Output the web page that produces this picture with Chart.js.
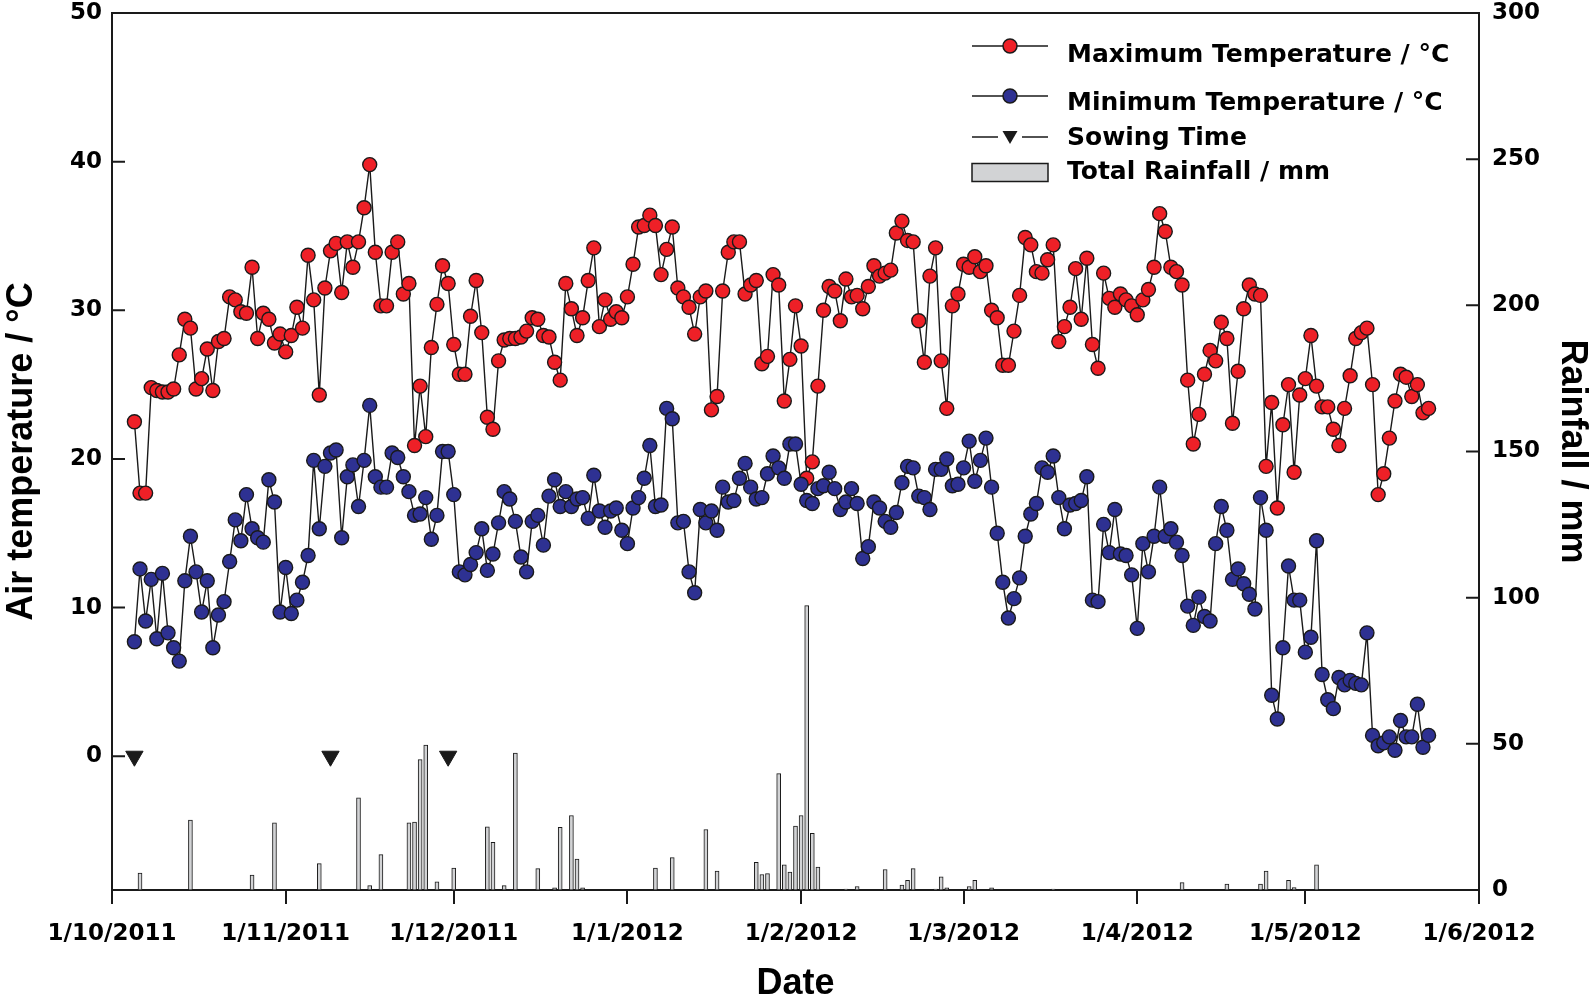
<!DOCTYPE html>
<html lang="en">

<head>
    <meta charset="UTF-8" />
    <title>Air temperature and rainfall</title>
    <style>
        html,
        body {
            margin: 0;
            padding: 0;
            background: #fff;
        }

        #wrapper {
            width: 1594px;
            height: 998px;
        }
    </style>
</head>

<body>
    <div id="wrapper">
        <canvas id="chart" width="1594" height="998"></canvas>
    </div>

    <script src="https://cdn.jsdelivr.net/npm/chart.js@4.4.1/dist/chart.umd.min.js"></script>
    <script>
        // x values are days counted from 1/10/2011
        const firstDay = 4; // 5/10/2011, one reading per day after that

        const maxTemp = [
            22.5, 17.7, 17.7, 24.8, 24.6, 24.5, 24.5, 24.7, 27.0, 29.4,
            28.8, 24.7, 25.4, 27.4, 24.6, 27.9, 28.1, 30.9, 30.7, 29.9,
            29.8, 32.9, 28.1, 29.8, 29.4, 27.8, 28.4, 27.2, 28.3, 30.2,
            28.8, 33.7, 30.7, 24.3, 31.5, 34.0, 34.5, 31.2, 34.6, 32.9,
            34.6, 36.9, 39.8, 33.9, 30.3, 30.3, 33.9, 34.6, 31.1, 31.8,
            20.9, 24.9, 21.5, 27.5, 30.4, 33.0, 31.8, 27.7, 25.7, 25.7,
            29.6, 32.0, 28.5, 22.8, 22.0, 26.6, 28.0, 28.1, 28.1, 28.2,
            28.6, 29.5, 29.4, 28.3, 28.2, 26.5, 25.3, 31.8, 30.1, 28.3,
            29.5, 32.0, 34.2, 28.9, 30.7, 29.4, 29.9, 29.5, 30.9, 33.1,
            35.6, 35.7, 36.4, 35.7, 32.4, 34.1, 35.6, 31.5, 30.9, 30.2,
            28.4, 30.9, 31.3, 23.3, 24.2, 31.3, 33.9, 34.6, 34.6, 31.1,
            31.7, 32.0, 26.4, 26.9, 32.4, 31.7, 23.9, 26.7, 30.3, 27.6,
            18.7, 19.8, 24.9, 30.0, 31.6, 31.3, 29.3, 32.1, 30.9, 31.0,
            30.1, 31.6, 33.0, 32.3, 32.5, 32.7, 35.2, 36.0, 34.7, 34.6,
            29.3, 26.5, 32.3, 34.2, 26.6, 23.4, 30.3, 31.1, 33.1, 32.9,
            33.6, 32.6, 33.0, 30.0, 29.5, 26.3, 26.3, 28.6, 31.0, 34.9,
            34.4, 32.6, 32.5, 33.4, 34.4, 27.9, 28.9, 30.2, 32.8, 29.4,
            33.5, 27.7, 26.1, 32.5, 30.8, 30.2, 31.1, 30.7, 30.3, 29.7,
            30.7, 31.4, 32.9, 36.5, 35.3, 32.9, 32.6, 31.7, 25.3, 21.0,
            23.0, 25.7, 27.3, 26.6, 29.2, 28.1, 22.4, 25.9, 30.1, 31.7,
            31.1, 31.0, 19.5, 23.8, 16.7, 22.3, 25.0, 19.1, 24.3, 25.4,
            28.3, 24.9, 23.5, 23.5, 22.0, 20.9, 23.4, 25.6, 28.1, 28.5,
            28.8, 25.0, 17.6, 19.0, 21.4, 23.9, 25.7, 25.5, 24.2, 25.0,
            23.1, 23.4
        ];

        const minTemp = [
            7.7, 12.6, 9.1, 11.9, 7.9, 12.3, 8.3, 7.3, 6.4, 11.8,
            14.8, 12.4, 9.7, 11.8, 7.3, 9.5, 10.4, 13.1, 15.9, 14.5,
            17.6, 15.3, 14.7, 14.4, 18.6, 17.1, 9.7, 12.7, 9.6, 10.5,
            11.7, 13.5, 19.9, 15.3, 19.5, 20.4, 20.6, 14.7, 18.8, 19.6,
            16.8, 19.9, 23.6, 18.8, 18.1, 18.1, 20.4, 20.1, 18.8, 17.8,
            16.2, 16.3, 17.4, 14.6, 16.2, 20.5, 20.5, 17.6, 12.4, 12.2,
            12.9, 13.7, 15.3, 12.5, 13.6, 15.7, 17.8, 17.3, 15.8, 13.4,
            12.4, 15.8, 16.2, 14.2, 17.5, 18.6, 16.8, 17.8, 16.8, 17.3,
            17.4, 16.0, 18.9, 16.5, 15.4, 16.5, 16.7, 15.2, 14.3, 16.7,
            17.4, 18.7, 20.9, 16.8, 16.9, 23.4, 22.7, 15.7, 15.8, 12.4,
            11.0, 16.6, 15.7, 16.5, 15.2, 18.1, 17.1, 17.2, 18.7, 19.7,
            18.1, 17.3, 17.4, 19.0, 20.2, 19.4, 18.7, 21.0, 21.0, 18.3,
            17.2, 17.0, 18.0, 18.2, 19.1, 18.0, 16.6, 17.1, 18.0, 17.0,
            13.3, 14.1, 17.1, 16.7, 15.8, 15.4, 16.4, 18.4, 19.5, 19.4,
            17.5, 17.4, 16.6, 19.3, 19.3, 20.0, 18.2, 18.3, 19.4, 21.2,
            18.5, 19.9, 21.4, 18.1, 15.0, 11.7, 9.3, 10.6, 12.0, 14.8,
            16.3, 17.0, 19.4, 19.1, 20.2, 17.4, 15.3, 16.9, 17.0, 17.2,
            18.8, 10.5, 10.4, 15.6, 13.7, 16.6, 13.6, 13.5, 12.2, 8.6,
            14.3, 12.4, 14.8, 18.1, 14.8, 15.3, 14.4, 13.5, 10.1, 8.8,
            10.7, 9.4, 9.1, 14.3, 16.8, 15.2, 11.9, 12.6, 11.6, 10.9,
            9.9, 17.4, 15.2, 4.1, 2.5, 7.3, 12.8, 10.5, 10.5, 7.0,
            8.0, 14.5, 5.5, 3.8, 3.2, 5.3, 4.8, 5.1, 4.9, 4.8,
            8.3, 1.4, 0.7, 0.9, 1.3, 0.4, 2.4, 1.3, 1.3, 3.5,
            0.6, 1.4
        ];

        // daily rainfall, only days with rain
        const rainDays = [5, 14, 25, 29, 37, 44, 46, 48, 53, 54, 55, 56, 58, 61, 67, 68, 70, 72, 76, 79,
            80, 82, 83, 84, 97, 100, 106, 108, 115, 116, 117, 119, 120, 121, 122, 123, 124, 125, 126, 131,
            133, 138, 141, 142, 143, 147, 148, 149, 153, 154, 157, 168, 191, 199, 205, 206, 210, 211, 215];
        const rainMm = [5.8, 23.9, 5.1, 23.0, 9.0, 31.5, 1.5, 12.1, 23.0, 23.2, 44.6, 49.6, 2.8, 7.5, 21.6, 16.3, 1.5, 46.8, 7.3, 0.7,
            21.4, 25.5, 10.6, 0.7, 7.5, 11.1, 20.7, 6.5, 9.5, 5.3, 5.6, 39.8, 8.6, 6.1, 21.9, 25.5, 97.3, 19.4, 7.8, 0.3,
            1.2, 7.0, 1.7, 3.3, 7.3, 0.3, 4.5, 0.7, 1.2, 3.3, 0.7, 0.3, 2.5, 2.0, 2.0, 6.5, 3.3, 0.8, 8.6];

        const sowingDays = [4, 39, 60];

        const monthDays = [0, 31, 61, 92, 123, 152, 183, 213, 244];
        const monthLabels = ["1/10/2011", "1/11/2011", "1/12/2011", "1/1/2012", "1/2/2012",
            "1/3/2012", "1/4/2012", "1/5/2012", "1/6/2012"];
        const tempTicks = [0, 10, 20, 30, 40, 50];
        const rainTicks = [0, 50, 100, 150, 200, 250, 300];

        const legendItems = ["Maximum Temperature / °C", "Minimum Temperature / °C", "Sowing Time", "Total Rainfall / mm"];

        const RED = "#ee2027";
        const BLUE = "#2e3192";
        const INK = "#1a1a1a";
        const BAR = "#d2d3d5";
        const tickFont = { family: "DejaVu Sans", weight: "bold", size: 23 };
        const titleFont = { family: "Liberation Sans", weight: "bold", size: 36, lineHeight: 0.8 };

        function daily(values) {
            return values.map((v, i) => ({ x: firstDay + i, y: v }));
        }

        // y axes: fixed width and no extra room for the end labels
        function fixWidth(w) {
            return s => {
                s.width = w;
                s.paddingTop = 0;
                s.paddingBottom = 0;
            };
        }

        // inward ticks on both y axes plus the top edge of the frame
        const frame = {
            id: "frame",
            afterDraw(chart) {
                const { ctx, chartArea: a } = chart;
                ctx.save();
                ctx.strokeStyle = INK;
                ctx.lineWidth = 2;
                ctx.beginPath();
                ctx.moveTo(a.left - 1, a.top);
                ctx.lineTo(a.right + 1, a.top);
                chart.scales.y.ticks.forEach(t => {
                    const y = chart.scales.y.getPixelForValue(t.value);
                    ctx.moveTo(a.left, y);
                    ctx.lineTo(a.left + 13, y);
                });
                chart.scales.y1.ticks.forEach(t => {
                    const y = chart.scales.y1.getPixelForValue(t.value);
                    ctx.moveTo(a.right - 13, y);
                    ctx.lineTo(a.right, y);
                });
                ctx.stroke();
                ctx.restore();
            }
        };

        // legend drawn in the style of the original plot
        const plotLegend = {
            id: "plotLegend",
            afterDraw(chart) {
                const ctx = chart.ctx;
                const x0 = 972, x1 = 1048, xc = 1010, tx = 1067;
                const rows = [
                    { sym: 46, text: 55 },
                    { sym: 96, text: 103 },
                    { sym: 137, text: 138 },
                    { sym: 172.5, text: 172.5 }
                ];
                ctx.save();
                ctx.strokeStyle = INK;
                ctx.lineWidth = 1.5;

                [RED, BLUE].forEach((c, i) => {
                    const y = rows[i].sym;
                    ctx.beginPath();
                    ctx.moveTo(x0, y);
                    ctx.lineTo(x1, y);
                    ctx.stroke();
                    ctx.beginPath();
                    ctx.arc(xc, y, 7, 0, Math.PI * 2);
                    ctx.fillStyle = c;
                    ctx.fill();
                    ctx.stroke();
                });

                let y = rows[2].sym;
                ctx.beginPath();
                ctx.moveTo(x0, y);
                ctx.lineTo(x0 + 26, y);
                ctx.moveTo(x1 - 26, y);
                ctx.lineTo(x1, y);
                ctx.stroke();
                ctx.beginPath();
                ctx.moveTo(xc - 7.5, y - 6);
                ctx.lineTo(xc + 7.5, y - 6);
                ctx.lineTo(xc, y + 7);
                ctx.closePath();
                ctx.fillStyle = INK;
                ctx.fill();

                y = rows[3].sym;
                ctx.fillStyle = BAR;
                ctx.fillRect(x0, y - 9, x1 - x0, 18);
                ctx.strokeRect(x0, y - 9, x1 - x0, 18);

                ctx.fillStyle = "#000";
                ctx.font = "bold 25px 'DejaVu Sans'";
                ctx.textBaseline = "middle";
                ctx.textAlign = "left";
                legendItems.forEach((label, i) => ctx.fillText(label, tx, rows[i].text));
                ctx.restore();
            }
        };

        const chart = new Chart("chart", {
            type: "line",
            plugins: [frame, plotLegend],
            data: {
                datasets: [{
                    label: legendItems[2],
                    data: sowingDays.map(d => ({ x: d, y: 0 })),
                    showLine: false,
                    pointStyle: "triangle",
                    rotation: 180,
                    pointRadius: 10,
                    pointBackgroundColor: INK,
                    pointBorderColor: INK,
                    pointBorderWidth: 1,
                    yAxisID: "y",
                    order: 0
                }, {
                    label: legendItems[1],
                    data: daily(minTemp),
                    borderColor: INK,
                    borderWidth: 1.4,
                    pointRadius: 7,
                    pointBackgroundColor: BLUE,
                    pointBorderColor: INK,
                    pointBorderWidth: 1.4,
                    tension: 0,
                    yAxisID: "y",
                    order: 1
                }, {
                    label: legendItems[0],
                    data: daily(maxTemp),
                    borderColor: INK,
                    borderWidth: 1.4,
                    pointRadius: 7,
                    pointBackgroundColor: RED,
                    pointBorderColor: INK,
                    pointBorderWidth: 1.4,
                    tension: 0,
                    yAxisID: "y",
                    order: 2
                }, {
                    type: "bar",
                    label: legendItems[3],
                    data: rainDays.map((d, i) => ({ x: d, y: rainMm[i] })),
                    backgroundColor: BAR,
                    borderColor: INK,
                    borderWidth: 1,
                    barThickness: 4,
                    grouped: false,
                    yAxisID: "y1",
                    order: 3
                }]
            },
            options: {
                responsive: false,
                animation: false,
                layout: {
                    padding: { top: 13, left: 0, right: 0, bottom: 0 }
                },
                plugins: {
                    legend: { display: false },
                    tooltip: { enabled: false }
                },
                scales: {
                    x: {
                        type: "linear",
                        min: 0,
                        max: 244,
                        offset: false,
                        afterBuildTicks: s => { s.ticks = monthDays.map(v => ({ value: v })); },
                        afterFit: s => { s.height = 108; },
                        ticks: {
                            callback: v => monthLabels[monthDays.indexOf(v)],
                            autoSkip: false,
                            maxRotation: 0,
                            font: tickFont,
                            color: "#000",
                            padding: 16
                        },
                        grid: { offset: false, drawOnChartArea: false, color: INK, lineWidth: 2, tickLength: 14 },
                        border: { color: INK, width: 2 },
                        title: { display: true, text: "Date", font: titleFont, color: "#000", padding: 0 }
                    },
                    y: {
                        position: "left",
                        min: -9,
                        max: 50,
                        afterBuildTicks: s => { s.ticks = tempTicks.map(v => ({ value: v })); },
                        afterFit: fixWidth(112),
                        ticks: { font: tickFont, color: "#000", padding: 10 },
                        grid: { drawOnChartArea: false, drawTicks: false },
                        border: { color: INK, width: 2 },
                        title: { display: true, text: "Air temperature / °C", font: titleFont, color: "#000", padding: { top: 8, bottom: 0 } }
                    },
                    y1: {
                        position: "right",
                        min: 0,
                        max: 300,
                        afterBuildTicks: s => { s.ticks = rainTicks.map(v => ({ value: v })); },
                        afterFit: fixWidth(115),
                        ticks: { font: tickFont, color: "#000", padding: 13 },
                        grid: { drawOnChartArea: false, drawTicks: false },
                        border: { color: INK, width: 2 },
                        title: { display: true, text: "Rainfall / mm", font: titleFont, color: "#000", padding: { top: 8, bottom: 0 } }
                    }
                }
            }
        });
    </script>
</body>

</html>
